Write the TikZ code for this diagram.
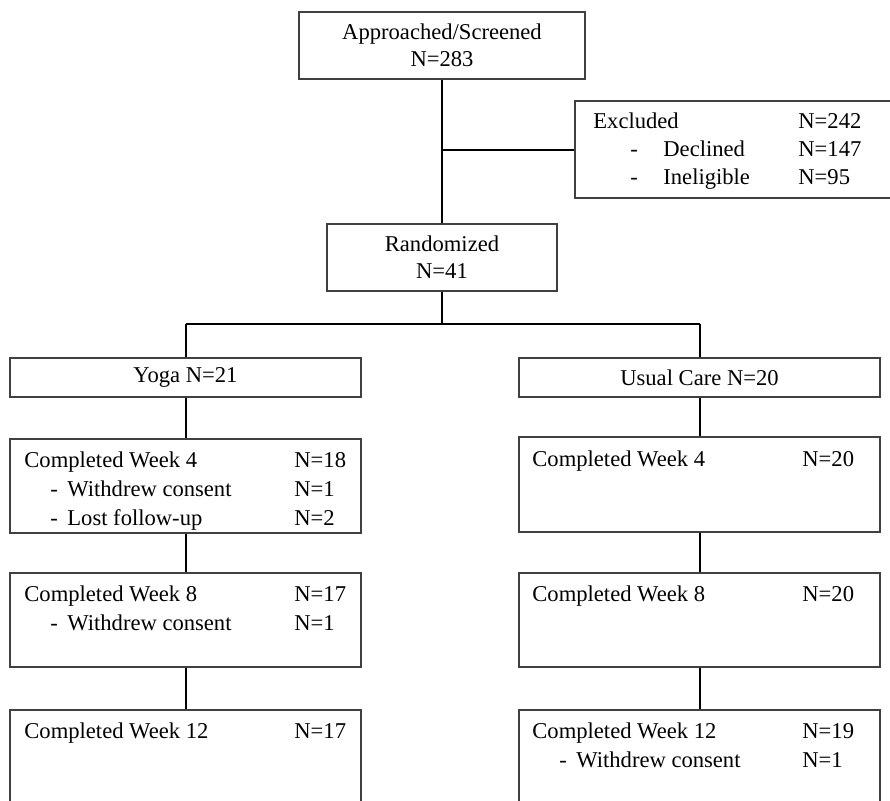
\documentclass[tikz,border=0pt]{standalone}
\usepackage{fontspec}
\setmainfont{Liberation Serif}
\usetikzlibrary{positioning}
\newcommand{\dashrow}[3]{\hspace*{#1}\makebox[#2][l]{-}#3}
\tikzset{
  box/.style={draw=black!75, line width=0.85pt, inner sep=0pt, align=center,
    font=\fontsize{11.3}{13.5}\selectfont},
  link/.style={draw=black, line width=1pt},
  txt/.style={anchor=base west, inner sep=0pt, font=\fontsize{11.3}{14.5}\selectfont},
}
\begin{document}
\begin{tikzpicture}[x=0.5pt, y=-0.5pt]
    \useasboundingbox (0,0) rectangle (890,800);
    % boxes
    \node[box, minimum width=143pt, minimum height=33.5pt] (screen) at (442, 45.5) {Approached/Screened\\N=283};
    \node[box, minimum width=158pt, minimum height=48.5pt] (excl) at (733, 149.5) {};
    \node[box, minimum width=115pt, minimum height=33.5pt] (rand) at (442, 257.5) {Randomized\\N=41};
    \node[box, minimum width=175.5pt, minimum height=19.5pt] (yoga) at (185.5, 377.5) {Yoga N=21};
    \node[box, minimum width=180.5pt, minimum height=19.5pt] (usual) at (699.5, 377.5) {Usual Care N=20};
    \node[box, minimum width=175.5pt, minimum height=47pt] (wk4L) at (185.5, 486) {};
    \node[box, minimum width=175.5pt, minimum height=47pt] (wk8L) at (185.5, 620) {};
    \node[box, minimum width=175.5pt, minimum height=48pt] (wk12L) at (185.5, 758) {};
    \node[box, minimum width=180.5pt, minimum height=47.5pt] (wk4R) at (699.5, 484.5) {};
    \node[box, minimum width=180.5pt, minimum height=47pt] (wk8R) at (699.5, 620) {};
    \node[box, minimum width=180.5pt, minimum height=48pt] (wk12R) at (699.5, 758) {};
    % box texts
    \node[txt, font=\fontsize{11.3}{14}\selectfont] (exclt) at (593, 128) {\begin{tabular}[t]{@{}p{102.5pt}@{}l@{}}
        Excluded & N=242\\
        \dashrow{18.5pt}{16.5pt}{Declined} & N=147\\
        \dashrow{18.5pt}{16.5pt}{Ineligible} & N=95
      \end{tabular}};
    \node[txt] (wk4Lt) at (24, 467.7) {\begin{tabular}[t]{@{}p{135pt}@{}l@{}}
        Completed Week 4 & N=18\\
        \dashrow{13pt}{8.5pt}{Withdrew consent} & N=1\\
        \dashrow{13pt}{8.5pt}{Lost follow-up} & N=2
      \end{tabular}};
    \node[txt] (wk8Lt) at (24, 601) {\begin{tabular}[t]{@{}p{135pt}@{}l@{}}
        Completed Week 8 & N=17\\
        \dashrow{13pt}{8.5pt}{Withdrew consent} & N=1
      \end{tabular}};
    \node[txt] (wk12Lt) at (24, 738) {\begin{tabular}[t]{@{}p{135pt}@{}l@{}}
        Completed Week 12 & N=17
      \end{tabular}};
    \node[txt] (wk4Rt) at (532, 466.7) {\begin{tabular}[t]{@{}p{135pt}@{}l@{}}
        Completed Week 4 & N=20
      \end{tabular}};
    \node[txt] (wk8Rt) at (532, 601) {\begin{tabular}[t]{@{}p{135pt}@{}l@{}}
        Completed Week 8 & N=20
      \end{tabular}};
    \node[txt] (wk12Rt) at (532, 738) {\begin{tabular}[t]{@{}p{135pt}@{}l@{}}
        Completed Week 12 & N=19\\
        \dashrow{13.5pt}{8.5pt}{Withdrew consent} & N=1
      \end{tabular}};
    % connectors
    \coordinate (split) at (442, 324);
    \draw[link] (screen) -- (rand);
    \draw[link] (screen.south |- excl.west) -- (excl.west);
    \draw[link] (rand) -- (split);
    \draw[link] (yoga.north |- split) -- (usual.north |- split);
    \draw[link] (yoga.north |- split) -- (yoga);
    \draw[link] (usual.north |- split) -- (usual);
    \draw[link] (yoga) -- (wk4L) -- (wk8L) -- (wk12L);
    \draw[link] (usual) -- (wk4R) -- (wk8R) -- (wk12R);
\end{tikzpicture}
\end{document}
